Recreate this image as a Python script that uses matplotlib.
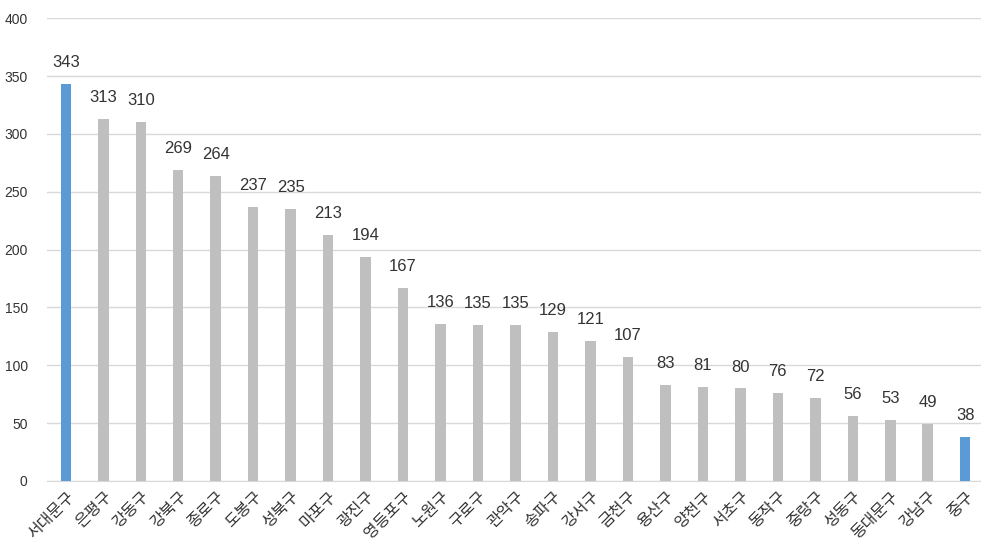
import matplotlib
matplotlib.use("Agg")
import matplotlib.pyplot as plt

plt.rcParams['font.family'] = ['Noto Sans CJK KR', 'DejaVu Sans']

districts = ["서대문구", "은평구", "강동구", "강북구", "종로구", "도봉구", "성북구", "마포구",
             "광진구", "영등포구", "노원구", "구로구", "관악구", "송파구", "강서구", "금천구",
             "용산구", "양천구", "서초구", "동작구", "중랑구", "성동구", "동대문구", "강남구", "중구"]
values = [343, 313, 310, 269, 264, 237, 235, 213, 194, 167, 136, 135, 135, 129, 121, 107,
          83, 81, 80, 76, 72, 56, 53, 49, 38]
highlight = ["서대문구", "중구"]
yticks = [0, 50, 100, 150, 200, 250, 300, 350, 400]

fig = plt.figure(figsize=(9.81, 5.47), dpi=100)
ax = fig.add_axes([0.048, 0.1207, 0.955, 0.846])

colors = ["#5B9BD5" if d in highlight else "#BFBFBF" for d in districts]
x = list(range(len(districts)))
ax.bar(x, values, width=0.28, color=colors, zorder=3)
for xi, v in zip(x, values):
    ax.text(xi, v + 12, str(v), ha='center', va='bottom', fontsize=12,
            color='#333333', family=['Liberation Sans', 'DejaVu Sans'])

ax.set_xlim(-0.5, len(districts) - 0.5)
ax.set_ylim(0, 400)
ax.set_yticks(yticks)
ax.set_yticklabels([str(t) for t in yticks], fontsize=10, color='#333333',
                   family=['Liberation Sans', 'DejaVu Sans'])
ax.set_xticks(x)
ax.set_xticklabels(districts, rotation=45, ha='right', rotation_mode='anchor',
                   fontsize=11.5, color='#333333', fontweight='medium')
ax.tick_params(axis='both', length=0)
ax.tick_params(axis='y', pad=14)
ax.tick_params(axis='x', pad=5)
ax.grid(axis='y', color='#D9D9D9', linewidth=1, zorder=0)
for s in ['top', 'right', 'left']:
    ax.spines[s].set_visible(False)
ax.spines['bottom'].set_color('#D9D9D9')

fig.savefig("out.png", dpi=100)
